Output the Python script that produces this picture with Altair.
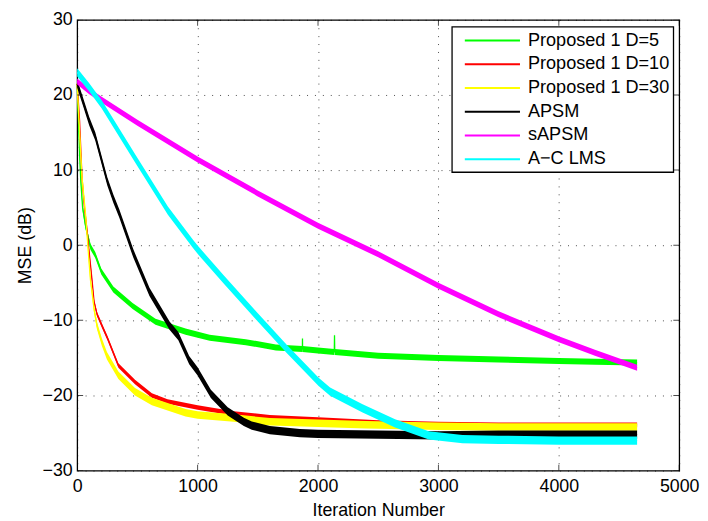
import altair as alt
import pandas as pd

FONT = "Liberation Sans, Arial, Helvetica, sans-serif"

SERIES = ["Proposed 1 D=5", "Proposed 1 D=10", "Proposed 1 D=30", "APSM", "sAPSM", "A\u2212C LMS"]
COLORS = ["#00ff00", "#ff0000", "#ffff00", "#000000", "#ff00ff", "#00ffff"]

XTICKS = [0, 1000, 2000, 3000, 4000, 5000]
YTICKS = [-30, -20, -10, 0, 10, 20, 30]

# Proposed 1 D=5 (green)
IT_GREEN = [0, 10, 20, 30, 45, 70, 110, 150, 200, 300, 460, 650, 900, 1100, 1400, 1650,
            1870, 1871, 1872, 2000, 2135, 2137, 2139, 2500, 3000, 3500, 4000, 4300, 4650]
MSE_GREEN = [21.5, 17, 12, 8.5, 5, 2.5, -0.2, -1.3, -3.5, -5.9, -8.1, -10.2, -11.5, -12.3, -12.9, -13.6,
             -13.8, -12.4, -13.8, -14.0, -14.2, -12.0, -14.2, -14.7, -15.0, -15.2, -15.4, -15.5, -15.6]
BAND_GREEN = 0.8

# Proposed 1 D=10 (red)
IT_RED = [0, 10, 20, 40, 60, 82, 100, 123, 140, 165, 205, 250, 342, 480, 620, 750, 1000,
          1300, 1600, 2000, 2500, 3000, 3500, 4000, 4650]
MSE_RED = [21.5, 19, 16.5, 9, 5, 2, -1, -4.6, -7.5, -9.2, -10.7, -12.3, -16, -18.2, -20, -20.8, -21.6,
           -22.4, -22.9, -23.2, -23.6, -23.8, -23.9, -23.9, -23.9]
BAND_RED = 0.6

# Proposed 1 D=30 (yellow)
IT_YELLOW = [0, 10, 20, 40, 70, 95, 110, 123, 140, 164, 205, 247, 342, 480, 620, 900, 1000,
             1300, 1600, 2000, 2400, 3000, 3500, 4000, 4650]
MSE_YELLOW = [21.5, 18, 15, 9, 4, -1.5, -4.6, -6.2, -8.5, -10.7, -12.9, -14.7, -17.3, -19.5, -20.8, -22.3, -22.6,
              -23.0, -23.5, -23.7, -23.9, -24.1, -24.2, -24.2, -24.2]
BAND_YELLOW = 1.0

# APSM (black)
IT_BLACK = [0, 50, 100, 150, 200, 250, 300, 350, 466, 600, 767, 840, 930, 1000, 1110, 1250,
            1384, 1450, 1600, 1850, 2000, 2500, 3000, 3500, 4000, 4650]
MSE_BLACK = [21.5, 19, 16.5, 14.5, 11.5, 8.5, 6.2, 4.2, -1.1, -6.2, -10.7, -12.1, -15.3, -16.8, -19.8, -22.1,
             -23.5, -24.0, -24.6, -25.0, -25.1, -25.2, -25.3, -25.2, -25.2, -25.2]
BAND_BLACK = 1.1

# sAPSM (magenta)
IT_MAGENTA = [0, 100, 200, 500, 1000, 1500, 2000, 2500, 3000, 3500, 4000, 4300, 4650]
MSE_MAGENTA = [21.8, 20.5, 19.4, 16.3, 11.4, 6.9, 2.6, -1.2, -5.4, -9.2, -12.5, -14.3, -16.3]
BAND_MAGENTA = 0.8

# A-C LMS (cyan)
IT_CYAN = [0, 100, 205, 480, 753, 960, 1000, 1220, 1500, 1740, 2005, 2100, 2370, 2640, 2920,
           3200, 3500, 4000, 4650]
MSE_CYAN = [23, 21, 18.7, 11.6, 4.6, 0.2, -0.6, -4.6, -9.6, -13.8, -18.2, -19.5, -21.7, -23.7, -25.3,
            -25.8, -25.9, -26.0, -26.0]
BAND_CYAN = 1.1

W, H = 609, 456

xscale = alt.Scale(domain=[0, 5000], nice=False, zero=False)
yscale = alt.Scale(domain=[-30, 30], nice=False, zero=False)

xaxis = alt.Axis(values=XTICKS, title="Iteration Number", format="d",
                 grid=True, ticks=False, domain=False,
                 labelPadding=7, titleY=45, titleBaseline="alphabetic")
yaxis = alt.Axis(values=YTICKS, title="MSE (dB)", format="d",
                 grid=True, ticks=False, domain=False,
                 labelPadding=5, titleX=-47, titleBaseline="alphabetic", titleAngle=270)

legend = alt.Legend(orient="none", legendX=379, legendY=7, title=None,
                    symbolType="M-3.1,0H3.1", symbolSize=324, symbolStrokeWidth=2,
                    symbolOffset=27, labelOffset=26, labelFontSize=18.3, labelFont=FONT,
                    labelColor="black", padding=4, rowPadding=5, labelLimit=400,
                    strokeColor="black", fillColor="white")

color_scale = alt.Scale(domain=SERIES, range=COLORS)

def series_layers(name, its, vals, band, color):
    df = pd.DataFrame({"it": its, "mse": vals})
    df["lo"] = df["mse"] - band / 2
    df["hi"] = df["mse"] + band / 2
    df["series"] = name
    base = alt.Chart(df)
    area = base.mark_area(color=color, opacity=1).encode(
        x=alt.X("it:Q", scale=xscale, axis=xaxis),
        y=alt.Y("lo:Q", scale=yscale, axis=yaxis),
        y2="hi:Q",
    )
    line = base.mark_line(strokeWidth=1.3).encode(
        x=alt.X("it:Q", scale=xscale, axis=xaxis),
        y=alt.Y("mse:Q", scale=yscale, axis=yaxis),
        color=alt.Color("series:N", scale=color_scale, legend=legend),
    )
    return [area, line]

layers = []
layers += series_layers(SERIES[0], IT_GREEN, MSE_GREEN, BAND_GREEN, COLORS[0])
layers += series_layers(SERIES[1], IT_RED, MSE_RED, BAND_RED, COLORS[1])
layers += series_layers(SERIES[2], IT_YELLOW, MSE_YELLOW, BAND_YELLOW, COLORS[2])
layers += series_layers(SERIES[3], IT_BLACK, MSE_BLACK, BAND_BLACK, COLORS[3])
layers += series_layers(SERIES[4], IT_MAGENTA, MSE_MAGENTA, BAND_MAGENTA, COLORS[4])
layers += series_layers(SERIES[5], IT_CYAN, MSE_CYAN, BAND_CYAN, COLORS[5])

xt = pd.DataFrame({"v": XTICKS})
yt = pd.DataFrame({"v": YTICKS})
for yv in [0, H]:
    layers.append(alt.Chart(xt).mark_tick(color="black", size=12, thickness=1, clip=True).encode(
        x=alt.X("v:Q", scale=xscale, axis=xaxis), y=alt.value(yv)))
for xv in [0, W]:
    layers.append(alt.Chart(yt).mark_tick(color="black", size=12, thickness=1, clip=True).encode(
        y=alt.Y("v:Q", scale=yscale, axis=yaxis), x=alt.value(xv)))

chart = alt.layer(*layers).properties(
    width=W, height=H,
    autosize=alt.AutoSizeParams(type="none"),
    padding={"left": 70, "top": 9, "right": 21, "bottom": 48},
    background="white",
).configure_axis(
    labelFont=FONT, labelFontSize=18, labelColor="black",
    titleFont=FONT, titleFontSize=18, titleColor="black", titleFontWeight="normal",
    gridColor="black", gridOpacity=0.7, gridDash=[1, 7], gridWidth=1,
    labelFlush=False,
).configure_view(
    stroke="black", strokeWidth=1.3
).configure_legend(
    strokeWidth=1.3
)

chart.save("out.html", embed_options={"renderer": "svg", "actions": False})
